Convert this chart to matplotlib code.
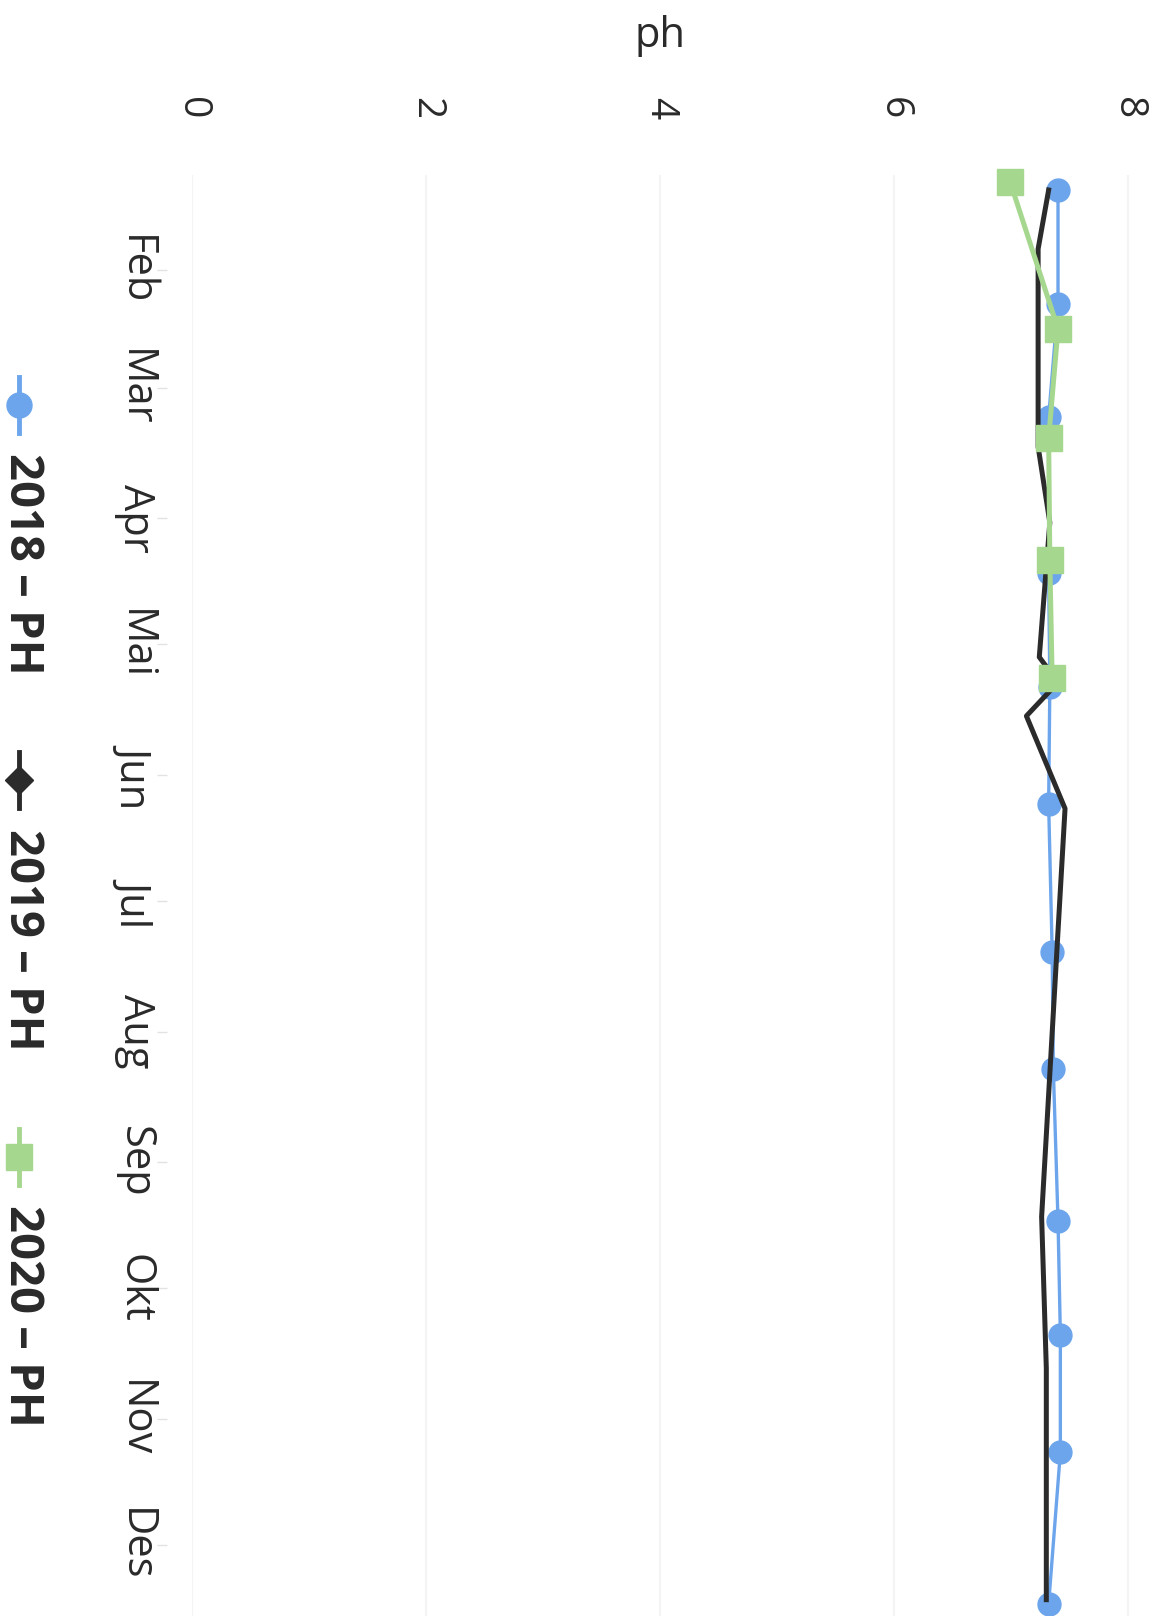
import matplotlib
matplotlib.use('Agg')
import matplotlib.pyplot as plt
import matplotlib.dates as mdates
from matplotlib.lines import Line2D
import pandas as pd

plt.rcParams['font.family'] = ['Open Sans', 'DejaVu Sans']

# pH readings, dates given as month-day (all years drawn on one calendar)
dates_2018 = ['01-13', '02-09', '03-08', '04-14', '05-11', '06-08',
              '07-13', '08-10', '09-15', '10-12', '11-09', '12-15']
ph_2018 = [7.40, 7.40, 7.32, 7.32, 7.33, 7.32, 7.35, 7.36, 7.40, 7.42, 7.42, 7.32]

dates_2019 = ['01-13', '01-27', '03-15', '04-02', '05-04', '05-10',
              '05-18', '06-09', '09-14', '10-20', '12-14']
ph_2019 = [7.32, 7.23, 7.23, 7.33, 7.24, 7.40, 7.13, 7.46, 7.26, 7.30, 7.30]

dates_2020 = ['01-11', '02-15', '03-13', '04-11', '05-09']
ph_2020 = [6.99, 7.40, 7.32, 7.33, 7.35]

month_labels = ['Feb', 'Mar', 'Apr', 'Mai', 'Jun', 'Jul', 'Aug', 'Sep', 'Okt', 'Nov', 'Des']
ph_ticks = [0, 2, 4, 6, 8]
series_names = ['2018 – PH', '2019 – PH', '2020 – PH']

blue = '#6ca5ec'
black = '#2b2b2b'
green = '#a6d78e'


def to_dates(md):
    return pd.to_datetime(['2021-' + s for s in md])


W, H = 1155, 1616
fig = plt.figure(figsize=(W / 100, H / 100), dpi=100)

# axes: ph runs left->right, time runs top->bottom (rotated page)
left_px, right_px, top_px = 191.7, 1134.0, 175.0
ax = fig.add_axes([left_px / W, 0, (right_px - left_px) / W, (H - top_px) / H])
ax.spines['left'].set_position(('outward', 18))  # must come before tick setup

ax.plot(ph_2018, to_dates(dates_2018), color=blue, lw=2.4, marker='o', ms=16.5,
        zorder=3, clip_on=False)
ax.plot(ph_2019, to_dates(dates_2019), color=black, lw=3.6, zorder=4, clip_on=False)
ax.plot(ph_2020, to_dates(dates_2020), color=green, lw=3.6, marker='s', ms=19,
        zorder=5, clip_on=False)

base = mdates.date2num(pd.Timestamp('2021-01-01'))
px_per_day = 4.208
jan1_px = 139.5
ax.set_ylim(base + (H - jan1_px) / px_per_day, base + (top_px - jan1_px) / px_per_day)
ax.set_xlim(0, (right_px - left_px) / 117.07)

month_pos = pd.date_range('2021-02-01', periods=len(month_labels), freq='MS')
ax.set_yticks(mdates.date2num(month_pos))
ax.set_yticklabels(month_labels, rotation=-90, va='center', ha='center')
ax.tick_params(axis='y', length=7, width=1, color='#e2e2e2', pad=16,
               labelsize=30, labelcolor='#2a2a2a')

ax.xaxis.tick_top()
ax.set_xticks(ph_ticks)
ax.set_xticklabels([str(t) for t in ph_ticks], rotation=-90, va='center', ha='center')
ax.tick_params(axis='x', length=0, pad=48, labelsize=28, labelcolor='#2a2a2a')

for s in ax.spines.values():
    s.set_visible(False)
ax.grid(axis='x', color='#f4f4f4', lw=1.5)
ax.axvline(0, color='#e8e8e8', lw=1.5, zorder=1)

fig.text(660 / W, 1 - 36 / H, 'ph', ha='center', va='center', fontsize=30,
         color='#2a2a2a')

# legend, drawn rotated down the left edge
icon_y = [405, 780, 1157]
text_y = [453, 829, 1205]
styles = [(blue, 'o', 18), (black, 'D', 14), (green, 's', 19)]
for name, iy, ty, (c, m, ms) in zip(series_names, icon_y, text_y, styles):
    fig.add_artist(Line2D([19 / W, 19 / W, 19 / W],
                          [1 - (iy - 28) / H, 1 - iy / H, 1 - (iy + 28) / H],
                          transform=fig.transFigure, color=c, lw=3.5,
                          marker=m, ms=ms, markevery=[1]))
    fig.text(22 / W, 1 - ty / H, name, rotation=-90, rotation_mode='anchor',
             ha='left', va='center', fontsize=34, fontweight='bold', color='#2a2a2a')

fig.savefig('out.png', dpi=100, facecolor='white')
